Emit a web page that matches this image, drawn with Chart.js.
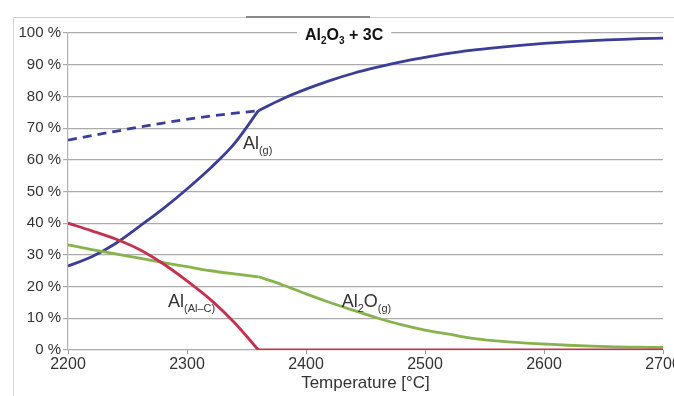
<!DOCTYPE html>
<html>
<head>
<meta charset="utf-8">
<script src="https://cdn.jsdelivr.net/npm/chart.js@4.4.0/dist/chart.umd.min.js"></script>
<style>
  html, body { margin: 0; padding: 0; background: #fff; }
  #wrap { position: relative; width: 674px; height: 396px; overflow: hidden; }
  #frame { position: absolute; left: 13px; top: 17px; right: -2px; bottom: -2px;
           border-left: 1px solid #d8d8d8; border-top: 1px solid #cdcdcd; }
  #topbar { position: absolute; left: 246px; top: 16px; width: 124px; height: 2px; background: #8a8a8a; }
  canvas { position: absolute; left: 0; top: 0; }
</style>
</head>
<body>
<div id="wrap">
  <div id="frame"></div>
  <div id="topbar"></div>
  <canvas id="chart" width="674" height="396"></canvas>
</div>
<script>
// 온도 구간 (°C)
const tempsLow = [2200, 2220, 2240, 2260, 2280, 2300, 2320, 2340, 2360];
const tempsHigh = [2360, 2380, 2400, 2420, 2440, 2460, 2480, 2500, 2520, 2540, 2560, 2580, 2600, 2620, 2640, 2660, 2680, 2700];
const tempsDash = [2200, 2240, 2280, 2320, 2360];
const tempsFlat = [2360, 2700];

// 각 상의 비율 (%)
const alGasLow = [26.5, 29.4, 33.6, 39.0, 44.6, 50.8, 57.5, 65.2, 75.5];
const alGasHigh = [75.5, 79.2, 82.3, 85.0, 87.3, 89.2, 90.9, 92.3, 93.6, 94.6, 95.4, 96.1, 96.7, 97.2, 97.6, 97.9, 98.2, 98.4];
const alGasDash = [66.2, 69.0, 71.6, 73.8, 75.5];
const alCarbideLow = [40.0, 37.6, 35.0, 31.7, 27.2, 21.8, 15.8, 8.6, 0];
const alCarbideFlat = [0, 0];
const al2oLow = [33.2, 31.7, 30.3, 29.0, 27.6, 26.3, 25.0, 24.0, 23.1];
const al2oHigh = [23.1, 20.6, 17.7, 15.0, 12.5, 10.1, 8.0, 6.3, 5.0, 3.7, 2.9, 2.3, 1.9, 1.5, 1.2, 1.0, 0.9, 0.8];

// 라벨 (데이터 좌표)
const seriesLabels = [
  { parts: [['Al', false], ['(g)', true]], t: 2347, v: 63.4 },
  { parts: [['Al', false], ['(Al–C)', true]], t: 2284, v: 13.5 },
  { parts: [['Al', false], ['2', true], ['O', false], ['(g)', true]], t: 2430, v: 13.5 }
];
const titleParts = [['Al', false], ['2', true], ['O', false], ['3', true], [' + 3C', false]];
const titlePos = { t: 2432, v: 97.9 };

const BLUE = '#3b3e96';
const RED = '#c6304f';
const GREEN = '#87b34f';
const FONT = 'Liberation Sans, Arial, sans-serif';

function pts(xs, ys) {
  return xs.map((x, i) => ({ x: x, y: ys[i] }));
}

function line(data, color, dash) {
  return {
    data: data,
    borderColor: color,
    borderWidth: 2.8,
    borderDash: dash || [],
    pointRadius: 0,
    fill: false,
    cubicInterpolationMode: 'monotone'
  };
}

// 아래첨자 텍스트 그리기
function partsWidth(ctx, parts, size, subSize, weight) {
  let w = 0;
  parts.forEach(([txt, sub]) => {
    ctx.font = `${weight} ${sub ? subSize : size}px ${FONT}`;
    w += ctx.measureText(txt).width;
  });
  return w;
}

function drawParts(ctx, parts, x, y, size, subSize, weight, subDrop) {
  let cx = x;
  parts.forEach(([txt, sub]) => {
    ctx.font = `${weight} ${sub ? subSize : size}px ${FONT}`;
    ctx.fillText(txt, cx, sub ? y + subDrop : y);
    cx += ctx.measureText(txt).width;
  });
}

const labelPlugin = {
  id: 'labels',
  afterDatasetsDraw(chart) {
    const ctx = chart.ctx;
    const xs = chart.scales.x, ys = chart.scales.y;
    ctx.save();
    ctx.textBaseline = 'alphabetic';
    ctx.textAlign = 'left';
    ctx.fillStyle = '#333';
    seriesLabels.forEach(l => {
      drawParts(ctx, l.parts, xs.getPixelForValue(l.t), ys.getPixelForValue(l.v), 18, 11, 'normal', 5);
    });

    // 제목 (흰 배경 박스)
    const w = partsWidth(ctx, titleParts, 16, 10, 'bold');
    const cx = xs.getPixelForValue(titlePos.t);
    const by = ys.getPixelForValue(titlePos.v);
    ctx.fillStyle = '#fff';
    ctx.fillRect(cx - w / 2 - 8, by - 14, w + 16, 22);
    ctx.fillStyle = '#111';
    drawParts(ctx, titleParts, cx - w / 2, by, 16, 10, 'bold', 4);
    ctx.restore();
  }
};

new Chart(document.getElementById('chart'), {
  type: 'line',
  data: {
    datasets: [
      line(pts(tempsDash, alGasDash), BLUE, [9, 6]),
      line(pts(tempsLow, alCarbideLow), RED),
      line(pts(tempsFlat, alCarbideFlat), RED),
      line(pts(tempsLow, al2oLow), GREEN),
      line(pts(tempsHigh, al2oHigh), GREEN),
      line(pts(tempsLow, alGasLow), BLUE),
      line(pts(tempsHigh, alGasHigh), BLUE)
    ]
  },
  options: {
    responsive: false,
    animation: false,
    layout: { padding: { left: 0, top: 33, right: 11, bottom: 0 } },
    plugins: { legend: { display: false }, tooltip: { enabled: false } },
    scales: {
      x: {
        type: 'linear',
        min: 2200,
        max: 2700,
        ticks: { stepSize: 100, color: '#333', font: { family: FONT, size: 16 }, padding: 1, maxRotation: 0,
                 callback: v => String(v) },
        grid: { drawOnChartArea: false, tickLength: 4, color: '#999' },
        border: { display: false },
        title: { display: true, text: 'Temperature [°C]', color: '#333',
                 font: { family: FONT, size: 17 }, padding: { top: 0, bottom: 2 } },
        afterFit: s => { s.height = 46; s.paddingLeft = 0; s.paddingRight = 0; }
      },
      y: {
        min: 0,
        max: 100,
        ticks: { stepSize: 10, color: '#333', font: { family: FONT, size: 15 }, padding: 2,
                 callback: v => v + ' %' },
        grid: { color: '#ababab', lineWidth: 1.2, tickLength: 5 },
        border: { display: true, color: '#b0b0b0', width: 1.2 },
        afterFit: s => { s.width = 68; s.paddingTop = 0; s.paddingBottom = 0; }
      }
    }
  },
  plugins: [labelPlugin]
});
</script>
</body>
</html>
